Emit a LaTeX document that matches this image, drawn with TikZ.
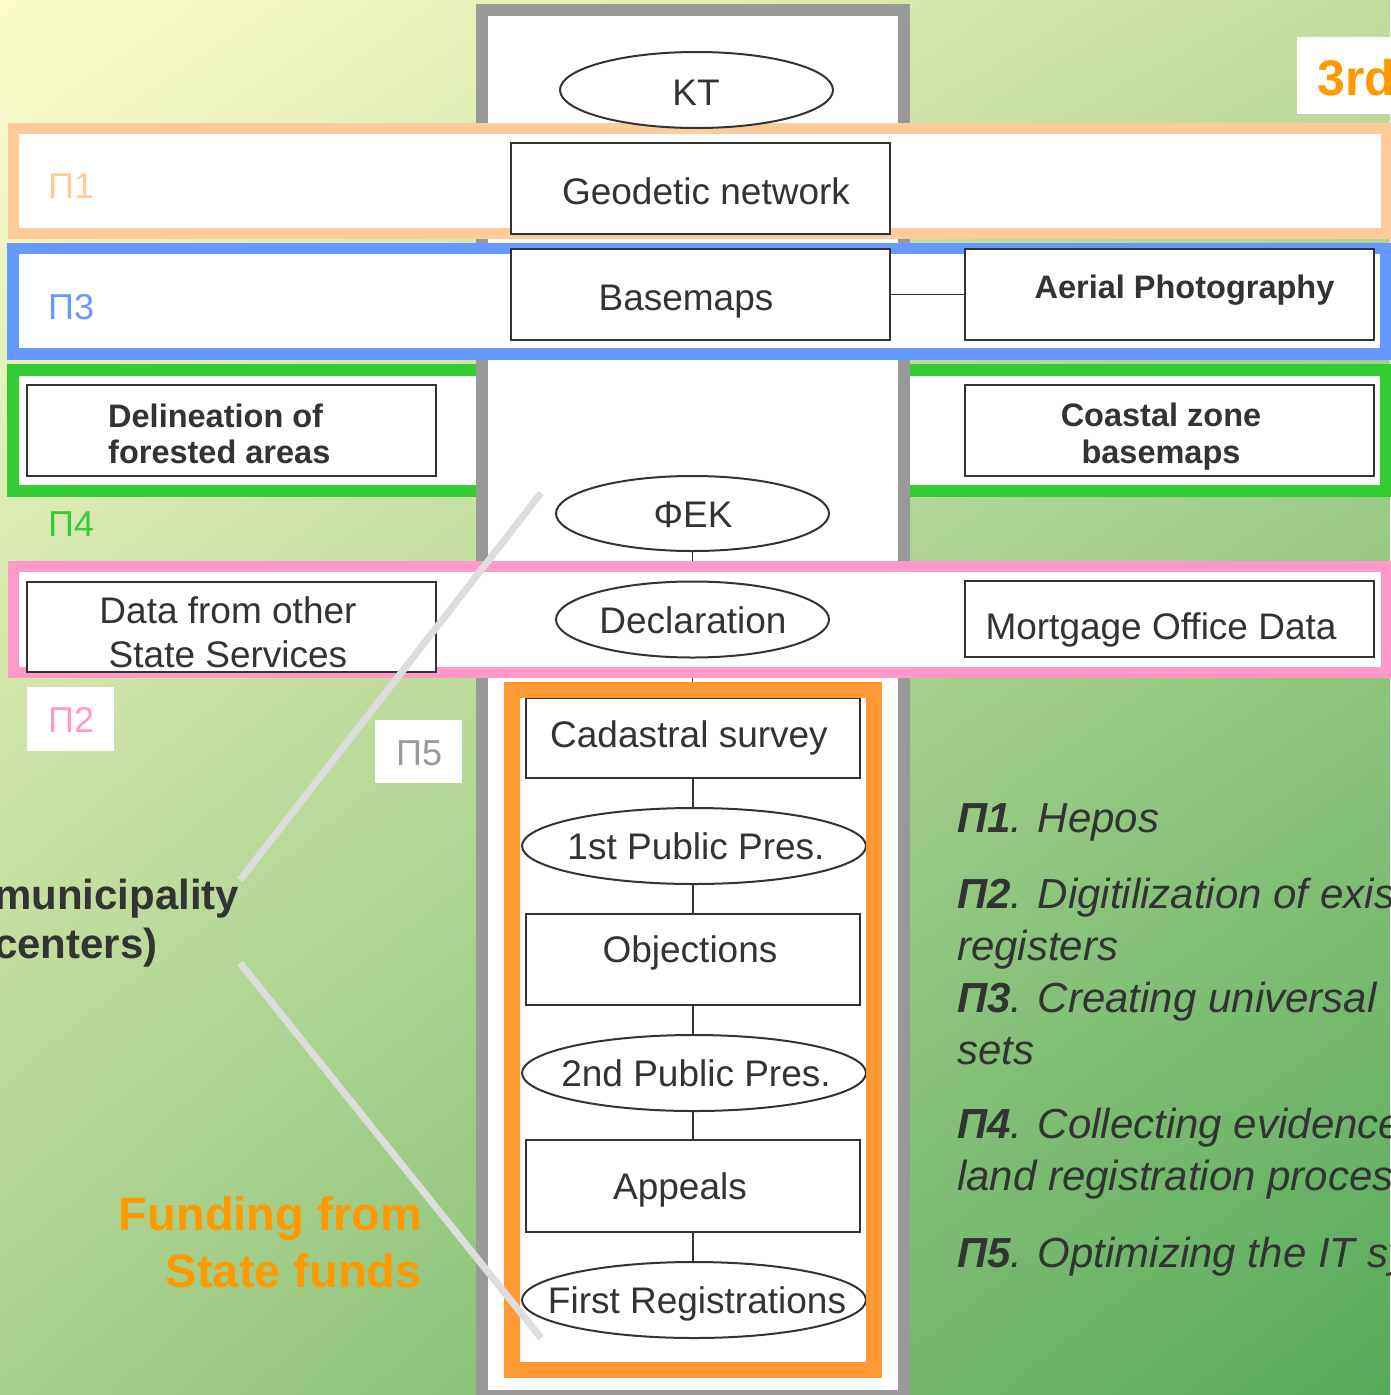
\documentclass[tikz,border=0pt]{standalone}
\usepackage{fontspec}
\setmainfont{Liberation Sans}
\usetikzlibrary{shapes.geometric,shadings}
\definecolor{ink}{HTML}{333333}
\definecolor{peach}{HTML}{FFCC99}
\definecolor{blueF}{HTML}{6699FF}
\definecolor{greenF}{HTML}{33CC33}
\definecolor{pinkF}{HTML}{FF99CC}
\definecolor{orangeF}{HTML}{FF9933}
\definecolor{orangeT}{HTML}{FF9900}
\definecolor{colgray}{HTML}{999999}
\definecolor{diagc}{HTML}{DDDDDD}
\definecolor{bgTL}{HTML}{FCFCCB}
\definecolor{bgTR}{HTML}{C3DD9D}
\definecolor{bgBL}{HTML}{A8CF8B}
\definecolor{bgBR}{HTML}{55AA5A}
\pgfdeclarelayer{back}
\pgfdeclarelayer{lines}
\pgfdeclarelayer{frames}
\pgfdeclarelayer{over}
\pgfsetlayers{back,lines,frames,main,over}
\begin{document}
\begin{tikzpicture}[x=1pt,y=-1pt,
  shapebox/.style={draw=ink,line width=2pt,fill=white,rectangle,inner sep=0pt},
  shapeoval/.style={draw=ink,line width=2pt,fill=white,ellipse,inner sep=0pt},
  reg/.style={font=\fontsize{37}{44}\selectfont,text=ink,inner sep=0pt,anchor=base},
  bld/.style={font=\bfseries\fontsize{32.5}{38}\selectfont,text=ink,inner sep=0pt,anchor=base},
  conn/.style={draw=ink,line width=1.6pt},
  diag/.style={draw=diagc,line width=7pt},
  plab/.style={font=\fontsize{36}{40}\selectfont,inner sep=0pt,anchor=base west},
  lst/.style={font=\itshape\fontsize{42}{52}\selectfont,text=ink,inner sep=0pt,anchor=base west},
  whitebox/.style={fill=white,inner sep=0pt,rectangle}
]
\useasboundingbox (0,0) rectangle (1390,1395);

% ---------- shapes ----------
\node[shapeoval,minimum width=273pt,minimum height=76pt] (kt) at (696.5,90) {};
\node[shapebox,minimum width=379pt,minimum height=91pt] (geo) at (700.5,188.5) {};
\node[shapebox,minimum width=379pt,minimum height=91pt] (base) at (700.5,294.5) {};
\node[shapebox,minimum width=409pt,minimum height=91pt] (aer) at (1169.5,294.5) {};
\node[shapebox,minimum width=409pt,minimum height=91pt] (del) at (231.5,430.5) {};
\node[shapebox,minimum width=409pt,minimum height=91pt] (coast) at (1169.5,430.5) {};
\node[shapeoval,minimum width=273pt,minimum height=75pt] (fek) at (692.5,513.5) {};
\node[shapeoval,minimum width=273pt,minimum height=76pt] (decl) at (692.5,619.5) {};
\node[shapebox,minimum width=409pt,minimum height=90pt] (data) at (231.5,626.5) {};
\node[shapebox,minimum width=409pt,minimum height=76pt] (mort) at (1169.5,619) {};
\node[shapebox,minimum width=334pt,minimum height=80pt] (cad) at (693,738) {};
\node[shapeoval,minimum width=344pt,minimum height=76pt] (pub1) at (694,846) {};
\node[shapebox,minimum width=334pt,minimum height=91pt] (obj) at (693,959) {};
\node[shapeoval,minimum width=344pt,minimum height=76pt] (pub2) at (694,1073) {};
\node[shapebox,minimum width=334pt,minimum height=92pt] (app) at (693,1186) {};
\node[shapeoval,minimum width=344pt,minimum height=76pt] (reg) at (694,1300) {};

% ---------- texts in shapes ----------
\node[reg] (ktT) at (696,105) {KT};
\node[reg] (geoT) at (706,204) {Geodetic network};
\node[reg] (baseT) at (686,310) {Basemaps};
\node[bld] (aerT) at (1184.5,298) {Aerial Photography};
\node[bld,anchor=base west] (delT1) at (108,427) {Delineation of};
\node[bld,anchor=base west] (delT2) at (108,463) {forested areas};
\node[bld] (coastT1) at (1161,426) {Coastal zone};
\node[bld] (coastT2) at (1161,463) {basemaps};
\node[reg] (fekT) at (693,527) {ΦΕΚ};
\node[reg] (declT) at (693,633) {Declaration};
\node[reg] (dataT1) at (228,623) {Data from other};
\node[reg] (dataT2) at (228,667) {State Services};
\node[reg] (mortT) at (1161,639) {Mortgage Office Data};
\node[reg] (cadT) at (689,747) {Cadastral survey};
\node[reg] (pub1T) at (696,859) {1st Public Pres.};
\node[reg] (objT) at (690,962) {Objections};
\node[reg] (pub2T) at (696,1086) {2nd Public Pres.};
\node[reg] (appT) at (680,1199) {Appeals};
\node[reg] (regT) at (697,1313) {First Registrations};

% ---------- connectors (main) ----------
\draw[conn] (base.east) -- (aer.west);
\draw[conn] (cad.south) -- (cad.south |- pub1.north);
\draw[conn] (obj.north) -- (obj.north |- pub1.south);
\draw[conn] (obj.south) -- (obj.south |- pub2.north);
\draw[conn] (app.north) -- (app.north |- pub2.south);
\draw[conn] (app.south) -- (app.south |- reg.north);

% ---------- labels ----------
\node[plab,text=peach] (p1) at (48,198) {Π1};
\node[plab,text=blueF] (p3) at (48,319) {Π3};
\node[plab,text=greenF] (p4) at (48,536) {Π4};
\node[whitebox,minimum width=87pt,minimum height=64pt] (p2box) at (70.5,719) {};
\node[plab,text=pinkF] (p2) at (48,732) {Π2};
\node[whitebox,minimum width=87pt,minimum height=63pt] (p5box) at (418.5,751.5) {};
\node[plab,text=colgray] (p5) at (396,765) {Π5};
\node[whitebox,minimum width=120pt,minimum height=77pt,anchor=west] (thirdbox) at (1297,75.5) {};
\node[font=\bfseries\fontsize{50}{56}\selectfont,text=orangeT,inner sep=0pt,anchor=base west] (third) at (1317,95) {3rd};

\node[font=\bfseries\fontsize{42}{50}\selectfont,text=ink,inner sep=0pt,anchor=base west] (muni1) at (-6,909) {municipality};
\node[font=\bfseries\fontsize{42}{50}\selectfont,text=ink,inner sep=0pt,anchor=base west] (muni2) at (-6,958) {centers)};
\node[font=\bfseries\fontsize{47}{56}\selectfont,text=orangeT,inner sep=0pt,anchor=base east] (fund1) at (422,1230) {Funding from};
\node[font=\bfseries\fontsize{47}{56}\selectfont,text=orangeT,inner sep=0pt,anchor=base east] (fund2) at (422,1287) {State funds};

\node[lst] (l1) at (957,832) {\textbf{Π1}. Hepos};
\node[lst] (l2) at (957,908) {\textbf{Π2}. Digitilization of existing};
\node[lst] (l2b) at (957,960) {registers};
\node[lst] (l3) at (957,1012) {\textbf{Π3}. Creating universal};
\node[lst] (l3b) at (957,1064) {sets};
\node[lst] (l4) at (957,1138) {\textbf{Π4}. Collecting evidence};
\node[lst] (l4b) at (957,1190) {land registration process};
\node[lst] (l5) at (957,1267) {\textbf{Π5}. Optimizing the IT system};

% ---------- background layer ----------
\begin{pgfonlayer}{back}
  \shade[upper left=bgTL, upper right=bgTR, lower left=bgBL, lower right=bgBR] (0,0) rectangle (1390,1395);
  \draw[draw=greenF,line width=12pt,fill=white] (13,370) rectangle (1386,491);
  \draw[draw=colgray,line width=12pt,fill=white] (482,10) rectangle (904,1396);
\end{pgfonlayer}

% ---------- connectors under the frames ----------
\begin{pgfonlayer}{lines}
  \draw[conn] (fek.south) -- (fek.south |- decl.north);
  \draw[conn] (decl.south) -- (decl.south |- cad.north);
\end{pgfonlayer}

% ---------- frames ----------
\begin{pgfonlayer}{frames}
  \draw[draw=peach,line width=11pt,fill=white] (13,128) rectangle (1386,233.5);
  \draw[draw=blueF,line width=11.5pt,fill=white] (13,248.5) rectangle (1386,354);
  \draw[draw=pinkF,line width=11pt,fill=white] (13,566) rectangle (1386,672.5);
  \fill[white] (512,690) rectangle (874,1369.5);
\end{pgfonlayer}

% ---------- over everything ----------
\begin{pgfonlayer}{over}
  \draw[draw=orangeF,line width=16pt] (512,690) rectangle (874,1369.5);
  \coordinate (da1) at (541,493);
  \coordinate (da2) at (240,880);
  \coordinate (db1) at (240,963);
  \coordinate (db2) at (541,1338);
  \draw[diag] (da1) -- (da2);
  \draw[diag] (db1) -- (db2);
\end{pgfonlayer}
\end{tikzpicture}
\end{document}
